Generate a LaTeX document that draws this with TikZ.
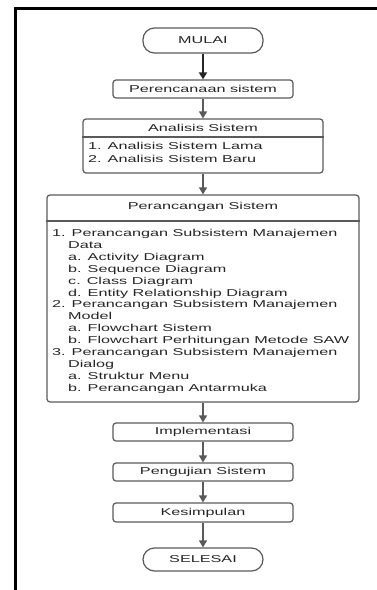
\documentclass[tikz,border=0pt]{standalone}
\usepackage{fontspec}
\setmainfont[FakeStretch=1.62]{Liberation Sans}
\usetikzlibrary{arrows.meta}
\definecolor{boxc}{HTML}{5A5A5A}
\definecolor{txtc}{HTML}{262626}
\tikzset{
  boxline/.style={draw=boxc, line width=1.2pt},
  term/.style={boxline, rectangle, rounded corners=11.5pt, minimum width=120pt, inner sep=0pt, font=\fontsize{10}{12}\selectfont, text=txtc},
  proc/.style={boxline, rectangle, rounded corners=3pt, minimum width=180pt, inner sep=0pt, font=\fontsize{10}{12}\selectfont, text=txtc},
  txt/.style={inner sep=0pt, font=\fontsize{10}{12}\selectfont, text=txtc},
  arr/.style={draw=boxc, line width=1.3pt, -{Triangle[width=8pt,length=7pt]}},
}
\begin{document}
\begin{tikzpicture}[x=1pt,y=-1pt]
\useasboundingbox (0,0) rectangle (377,590);
% frame
\draw[line width=3pt, black] (15.5,590) -- (15.5,8.5) -- (377,8.5);

\node[term, minimum height=25pt] (mulai) at (203,40.5) {MULAI};
\node[proc, minimum height=18pt] (plan) at (203,89) {Perencanaan sistem};

\node[proc, minimum width=240pt, minimum height=54pt] (ana) at (203,146) {};
\coordinate (d1) at (0,137);
\draw[boxline] (ana.west |- d1) -- (ana.east |- d1);
\node[txt] (anaT) at (203,128) {Analisis Sistem};
\node[txt, anchor=base west] (a1) at (88,149.5) {1. Analisis Sistem Lama};
\node[txt, anchor=base west] (a2) at (88,162.5) {2. Analisis Sistem Baru};

\node[proc, minimum width=312pt, minimum height=207pt] (per) at (203,298.5) {};
\coordinate (d2) at (0,221);
\draw[boxline] (per.west |- d2) -- (per.east |- d2);
\node[txt] (perT) at (203,207) {Perancangan Sistem};
\foreach \i/\x/\t in {
 0/52/{1. Perancangan Subsistem Manajemen},
 1/68/{Data},
 2/68/{a. Activity Diagram},
 3/68/{b. Sequence Diagram},
 4/68/{c. Class Diagram},
 5/68/{d. Entity Relationship Diagram},
 6/52/{2. Perancangan Subsistem Manajemen},
 7/68/{Model},
 8/68/{a. Flowchart Sistem},
 9/68/{b. Flowchart Perhitungan Metode SAW},
 10/52/{3. Perancangan Subsistem Manajemen},
 11/68/{Dialog},
 12/68/{a. Struktur Menu},
 13/68/{b. Perancangan Antarmuka}}
 { \node[txt, anchor=base west] (p\i) at (\x,236.5+11.9*\i) {\t}; }

\node[proc, minimum height=18pt] (impl) at (203,432) {Implementasi};
\node[proc, minimum height=18pt] (uji) at (203,472) {Pengujian Sistem};
\node[proc, minimum height=19pt] (kes) at (203,512.5) {Kesimpulan};
\node[term, minimum height=23pt] (sel) at (203,559.5) {SELESAI};

\draw[arr, draw=black!85, line width=1.8pt] (mulai) -- (plan);
\draw[arr] (plan) -- (ana);
\draw[arr] (ana) -- (per);
\draw[arr] (per) -- (impl);
\draw[arr] (impl) -- (uji);
\draw[arr] (uji) -- (kes);
\draw[arr] (kes) -- (sel);
\end{tikzpicture}
\end{document}
